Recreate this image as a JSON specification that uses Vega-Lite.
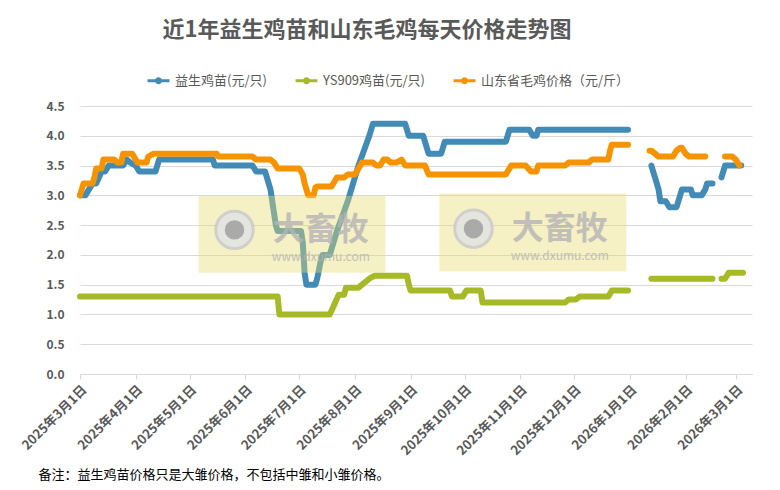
{
  "$schema": "https://vega.github.io/schema/vega-lite/v6.json",
  "width": 672,
  "height": 268,
  "autosize": {"type": "none"},
  "padding": {"left": 80, "top": 106, "right": 28, "bottom": 116},
  "background": "white",
  "title": {
    "text": "近1年益生鸡苗和山东毛鸡每天价格走势图",
    "anchor": "middle",
    "dx": -49,
    "offset": 26,
    "fontSize": 22,
    "fontWeight": "bold",
    "color": "#595959"
  },
  "datasets": {
    "price": [
      {"d": "2025-03-01", "s": "益生鸡苗(元/只)", "v": 3.0},
      {"d": "2025-03-04", "s": "益生鸡苗(元/只)", "v": 3.0},
      {"d": "2025-03-06", "s": "益生鸡苗(元/只)", "v": 3.1},
      {"d": "2025-03-08", "s": "益生鸡苗(元/只)", "v": 3.2},
      {"d": "2025-03-10", "s": "益生鸡苗(元/只)", "v": 3.2},
      {"d": "2025-03-12", "s": "益生鸡苗(元/只)", "v": 3.33},
      {"d": "2025-03-13", "s": "益生鸡苗(元/只)", "v": 3.4},
      {"d": "2025-03-15", "s": "益生鸡苗(元/只)", "v": 3.4},
      {"d": "2025-03-17", "s": "益生鸡苗(元/只)", "v": 3.5},
      {"d": "2025-03-25", "s": "益生鸡苗(元/只)", "v": 3.5},
      {"d": "2025-03-27", "s": "益生鸡苗(元/只)", "v": 3.6},
      {"d": "2025-03-29", "s": "益生鸡苗(元/只)", "v": 3.55},
      {"d": "2025-04-01", "s": "益生鸡苗(元/只)", "v": 3.5},
      {"d": "2025-04-03", "s": "益生鸡苗(元/只)", "v": 3.4},
      {"d": "2025-04-12", "s": "益生鸡苗(元/只)", "v": 3.4},
      {"d": "2025-04-13", "s": "益生鸡苗(元/只)", "v": 3.5},
      {"d": "2025-04-14", "s": "益生鸡苗(元/只)", "v": 3.6},
      {"d": "2025-05-14", "s": "益生鸡苗(元/只)", "v": 3.6},
      {"d": "2025-05-15", "s": "益生鸡苗(元/只)", "v": 3.5},
      {"d": "2025-06-05", "s": "益生鸡苗(元/只)", "v": 3.5},
      {"d": "2025-06-07", "s": "益生鸡苗(元/只)", "v": 3.4},
      {"d": "2025-06-12", "s": "益生鸡苗(元/只)", "v": 3.4},
      {"d": "2025-06-13", "s": "益生鸡苗(元/只)", "v": 3.3},
      {"d": "2025-06-14", "s": "益生鸡苗(元/只)", "v": 3.2},
      {"d": "2025-06-15", "s": "益生鸡苗(元/只)", "v": 3.1},
      {"d": "2025-06-16", "s": "益生鸡苗(元/只)", "v": 2.9},
      {"d": "2025-06-17", "s": "益生鸡苗(元/只)", "v": 2.7},
      {"d": "2025-06-18", "s": "益生鸡苗(元/只)", "v": 2.5},
      {"d": "2025-06-19", "s": "益生鸡苗(元/只)", "v": 2.4},
      {"d": "2025-07-02", "s": "益生鸡苗(元/只)", "v": 2.4},
      {"d": "2025-07-03", "s": "益生鸡苗(元/只)", "v": 2.2},
      {"d": "2025-07-04", "s": "益生鸡苗(元/只)", "v": 1.7},
      {"d": "2025-07-05", "s": "益生鸡苗(元/只)", "v": 1.5},
      {"d": "2025-07-10", "s": "益生鸡苗(元/只)", "v": 1.5},
      {"d": "2025-07-11", "s": "益生鸡苗(元/只)", "v": 1.6},
      {"d": "2025-07-12", "s": "益生鸡苗(元/只)", "v": 1.75},
      {"d": "2025-07-13", "s": "益生鸡苗(元/只)", "v": 1.9},
      {"d": "2025-07-14", "s": "益生鸡苗(元/只)", "v": 2.0},
      {"d": "2025-07-18", "s": "益生鸡苗(元/只)", "v": 2.0},
      {"d": "2025-07-19", "s": "益生鸡苗(元/只)", "v": 2.1},
      {"d": "2025-07-22", "s": "益生鸡苗(元/只)", "v": 2.4},
      {"d": "2025-07-25", "s": "益生鸡苗(元/只)", "v": 2.65},
      {"d": "2025-07-28", "s": "益生鸡苗(元/只)", "v": 2.9},
      {"d": "2025-07-31", "s": "益生鸡苗(元/只)", "v": 3.2},
      {"d": "2025-08-03", "s": "益生鸡苗(元/只)", "v": 3.5},
      {"d": "2025-08-06", "s": "益生鸡苗(元/只)", "v": 3.75},
      {"d": "2025-08-09", "s": "益生鸡苗(元/只)", "v": 4.0},
      {"d": "2025-08-11", "s": "益生鸡苗(元/只)", "v": 4.2},
      {"d": "2025-08-29", "s": "益生鸡苗(元/只)", "v": 4.2},
      {"d": "2025-08-31", "s": "益生鸡苗(元/只)", "v": 4.0},
      {"d": "2025-09-08", "s": "益生鸡苗(元/只)", "v": 4.0},
      {"d": "2025-09-10", "s": "益生鸡苗(元/只)", "v": 3.8},
      {"d": "2025-09-11", "s": "益生鸡苗(元/只)", "v": 3.7},
      {"d": "2025-09-18", "s": "益生鸡苗(元/只)", "v": 3.7},
      {"d": "2025-09-19", "s": "益生鸡苗(元/只)", "v": 3.8},
      {"d": "2025-09-20", "s": "益生鸡苗(元/只)", "v": 3.9},
      {"d": "2025-10-24", "s": "益生鸡苗(元/只)", "v": 3.9},
      {"d": "2025-10-25", "s": "益生鸡苗(元/只)", "v": 4.0},
      {"d": "2025-10-26", "s": "益生鸡苗(元/只)", "v": 4.1},
      {"d": "2025-11-06", "s": "益生鸡苗(元/只)", "v": 4.1},
      {"d": "2025-11-08", "s": "益生鸡苗(元/只)", "v": 4.0},
      {"d": "2025-11-10", "s": "益生鸡苗(元/只)", "v": 4.0},
      {"d": "2025-11-11", "s": "益生鸡苗(元/只)", "v": 4.1},
      {"d": "2025-12-31", "s": "益生鸡苗(元/只)", "v": 4.1},
      {"d": "2026-01-06", "s": "益生鸡苗(元/只)", "v": null},
      {"d": "2026-01-13", "s": "益生鸡苗(元/只)", "v": 3.5},
      {"d": "2026-01-14", "s": "益生鸡苗(元/只)", "v": 3.4},
      {"d": "2026-01-15", "s": "益生鸡苗(元/只)", "v": 3.3},
      {"d": "2026-01-17", "s": "益生鸡苗(元/只)", "v": 3.1},
      {"d": "2026-01-18", "s": "益生鸡苗(元/只)", "v": 2.9},
      {"d": "2026-01-21", "s": "益生鸡苗(元/只)", "v": 2.9},
      {"d": "2026-01-23", "s": "益生鸡苗(元/只)", "v": 2.8},
      {"d": "2026-01-27", "s": "益生鸡苗(元/只)", "v": 2.8},
      {"d": "2026-01-28", "s": "益生鸡苗(元/只)", "v": 2.9},
      {"d": "2026-01-29", "s": "益生鸡苗(元/只)", "v": 3.0},
      {"d": "2026-01-30", "s": "益生鸡苗(元/只)", "v": 3.1},
      {"d": "2026-02-04", "s": "益生鸡苗(元/只)", "v": 3.1},
      {"d": "2026-02-05", "s": "益生鸡苗(元/只)", "v": 3.0},
      {"d": "2026-02-10", "s": "益生鸡苗(元/只)", "v": 3.0},
      {"d": "2026-02-12", "s": "益生鸡苗(元/只)", "v": 3.1},
      {"d": "2026-02-13", "s": "益生鸡苗(元/只)", "v": 3.2},
      {"d": "2026-02-16", "s": "益生鸡苗(元/只)", "v": 3.2},
      {"d": "2026-02-19", "s": "益生鸡苗(元/只)", "v": null},
      {"d": "2026-02-21", "s": "益生鸡苗(元/只)", "v": 3.3},
      {"d": "2026-02-23", "s": "益生鸡苗(元/只)", "v": 3.5},
      {"d": "2026-03-04", "s": "益生鸡苗(元/只)", "v": 3.5},

      {"d": "2025-03-01", "s": "YS909鸡苗(元/只)", "v": 1.3},
      {"d": "2025-06-19", "s": "YS909鸡苗(元/只)", "v": 1.3},
      {"d": "2025-06-20", "s": "YS909鸡苗(元/只)", "v": 1.0},
      {"d": "2025-07-18", "s": "YS909鸡苗(元/只)", "v": 1.0},
      {"d": "2025-07-20", "s": "YS909鸡苗(元/只)", "v": 1.13},
      {"d": "2025-07-21", "s": "YS909鸡苗(元/只)", "v": 1.2},
      {"d": "2025-07-23", "s": "YS909鸡苗(元/只)", "v": 1.33},
      {"d": "2025-07-26", "s": "YS909鸡苗(元/只)", "v": 1.33},
      {"d": "2025-07-27", "s": "YS909鸡苗(元/只)", "v": 1.45},
      {"d": "2025-08-03", "s": "YS909鸡苗(元/只)", "v": 1.45},
      {"d": "2025-08-05", "s": "YS909鸡苗(元/只)", "v": 1.5},
      {"d": "2025-08-09", "s": "YS909鸡苗(元/只)", "v": 1.6},
      {"d": "2025-08-12", "s": "YS909鸡苗(元/只)", "v": 1.65},
      {"d": "2025-08-30", "s": "YS909鸡苗(元/只)", "v": 1.65},
      {"d": "2025-08-31", "s": "YS909鸡苗(元/只)", "v": 1.5},
      {"d": "2025-09-01", "s": "YS909鸡苗(元/只)", "v": 1.4},
      {"d": "2025-09-23", "s": "YS909鸡苗(元/只)", "v": 1.4},
      {"d": "2025-09-24", "s": "YS909鸡苗(元/只)", "v": 1.3},
      {"d": "2025-09-30", "s": "YS909鸡苗(元/只)", "v": 1.3},
      {"d": "2025-10-02", "s": "YS909鸡苗(元/只)", "v": 1.4},
      {"d": "2025-10-10", "s": "YS909鸡苗(元/只)", "v": 1.4},
      {"d": "2025-10-11", "s": "YS909鸡苗(元/只)", "v": 1.2},
      {"d": "2025-11-26", "s": "YS909鸡苗(元/只)", "v": 1.2},
      {"d": "2025-11-28", "s": "YS909鸡苗(元/只)", "v": 1.25},
      {"d": "2025-12-02", "s": "YS909鸡苗(元/只)", "v": 1.25},
      {"d": "2025-12-04", "s": "YS909鸡苗(元/只)", "v": 1.3},
      {"d": "2025-12-20", "s": "YS909鸡苗(元/只)", "v": 1.3},
      {"d": "2025-12-22", "s": "YS909鸡苗(元/只)", "v": 1.4},
      {"d": "2025-12-31", "s": "YS909鸡苗(元/只)", "v": 1.4},
      {"d": "2026-01-06", "s": "YS909鸡苗(元/只)", "v": null},
      {"d": "2026-01-13", "s": "YS909鸡苗(元/只)", "v": 1.6},
      {"d": "2026-02-16", "s": "YS909鸡苗(元/只)", "v": 1.6},
      {"d": "2026-02-19", "s": "YS909鸡苗(元/只)", "v": null},
      {"d": "2026-02-21", "s": "YS909鸡苗(元/只)", "v": 1.6},
      {"d": "2026-02-23", "s": "YS909鸡苗(元/只)", "v": 1.6},
      {"d": "2026-02-25", "s": "YS909鸡苗(元/只)", "v": 1.7},
      {"d": "2026-03-05", "s": "YS909鸡苗(元/只)", "v": 1.7},

      {"d": "2025-03-01", "s": "山东省毛鸡价格（元/斤）", "v": 3.0},
      {"d": "2025-03-02", "s": "山东省毛鸡价格（元/斤）", "v": 3.1},
      {"d": "2025-03-03", "s": "山东省毛鸡价格（元/斤）", "v": 3.2},
      {"d": "2025-03-08", "s": "山东省毛鸡价格（元/斤）", "v": 3.2},
      {"d": "2025-03-09", "s": "山东省毛鸡价格（元/斤）", "v": 3.3},
      {"d": "2025-03-10", "s": "山东省毛鸡价格（元/斤）", "v": 3.45},
      {"d": "2025-03-13", "s": "山东省毛鸡价格（元/斤）", "v": 3.45},
      {"d": "2025-03-14", "s": "山东省毛鸡价格（元/斤）", "v": 3.6},
      {"d": "2025-03-20", "s": "山东省毛鸡价格（元/斤）", "v": 3.6},
      {"d": "2025-03-22", "s": "山东省毛鸡价格（元/斤）", "v": 3.55},
      {"d": "2025-03-24", "s": "山东省毛鸡价格（元/斤）", "v": 3.55},
      {"d": "2025-03-25", "s": "山东省毛鸡价格（元/斤）", "v": 3.7},
      {"d": "2025-03-30", "s": "山东省毛鸡价格（元/斤）", "v": 3.7},
      {"d": "2025-04-01", "s": "山东省毛鸡价格（元/斤）", "v": 3.6},
      {"d": "2025-04-02", "s": "山东省毛鸡价格（元/斤）", "v": 3.55},
      {"d": "2025-04-07", "s": "山东省毛鸡价格（元/斤）", "v": 3.55},
      {"d": "2025-04-08", "s": "山东省毛鸡价格（元/斤）", "v": 3.65},
      {"d": "2025-04-11", "s": "山东省毛鸡价格（元/斤）", "v": 3.7},
      {"d": "2025-05-16", "s": "山东省毛鸡价格（元/斤）", "v": 3.7},
      {"d": "2025-05-17", "s": "山东省毛鸡价格（元/斤）", "v": 3.65},
      {"d": "2025-06-05", "s": "山东省毛鸡价格（元/斤）", "v": 3.65},
      {"d": "2025-06-07", "s": "山东省毛鸡价格（元/斤）", "v": 3.6},
      {"d": "2025-06-15", "s": "山东省毛鸡价格（元/斤）", "v": 3.6},
      {"d": "2025-06-17", "s": "山东省毛鸡价格（元/斤）", "v": 3.55},
      {"d": "2025-06-19", "s": "山东省毛鸡价格（元/斤）", "v": 3.45},
      {"d": "2025-07-01", "s": "山东省毛鸡价格（元/斤）", "v": 3.45},
      {"d": "2025-07-03", "s": "山东省毛鸡价格（元/斤）", "v": 3.35},
      {"d": "2025-07-04", "s": "山东省毛鸡价格（元/斤）", "v": 3.2},
      {"d": "2025-07-05", "s": "山东省毛鸡价格（元/斤）", "v": 3.1},
      {"d": "2025-07-06", "s": "山东省毛鸡价格（元/斤）", "v": 3.0},
      {"d": "2025-07-09", "s": "山东省毛鸡价格（元/斤）", "v": 3.0},
      {"d": "2025-07-10", "s": "山东省毛鸡价格（元/斤）", "v": 3.13},
      {"d": "2025-07-11", "s": "山东省毛鸡价格（元/斤）", "v": 3.15},
      {"d": "2025-07-19", "s": "山东省毛鸡价格（元/斤）", "v": 3.15},
      {"d": "2025-07-21", "s": "山东省毛鸡价格（元/斤）", "v": 3.25},
      {"d": "2025-07-22", "s": "山东省毛鸡价格（元/斤）", "v": 3.3},
      {"d": "2025-07-26", "s": "山东省毛鸡价格（元/斤）", "v": 3.3},
      {"d": "2025-07-28", "s": "山东省毛鸡价格（元/斤）", "v": 3.35},
      {"d": "2025-08-01", "s": "山东省毛鸡价格（元/斤）", "v": 3.35},
      {"d": "2025-08-03", "s": "山东省毛鸡价格（元/斤）", "v": 3.45},
      {"d": "2025-08-05", "s": "山东省毛鸡价格（元/斤）", "v": 3.55},
      {"d": "2025-08-11", "s": "山东省毛鸡价格（元/斤）", "v": 3.55},
      {"d": "2025-08-13", "s": "山东省毛鸡价格（元/斤）", "v": 3.5},
      {"d": "2025-08-15", "s": "山东省毛鸡价格（元/斤）", "v": 3.5},
      {"d": "2025-08-17", "s": "山东省毛鸡价格（元/斤）", "v": 3.6},
      {"d": "2025-08-19", "s": "山东省毛鸡价格（元/斤）", "v": 3.6},
      {"d": "2025-08-21", "s": "山东省毛鸡价格（元/斤）", "v": 3.55},
      {"d": "2025-08-24", "s": "山东省毛鸡价格（元/斤）", "v": 3.55},
      {"d": "2025-08-27", "s": "山东省毛鸡价格（元/斤）", "v": 3.6},
      {"d": "2025-08-29", "s": "山东省毛鸡价格（元/斤）", "v": 3.5},
      {"d": "2025-09-09", "s": "山东省毛鸡价格（元/斤）", "v": 3.5},
      {"d": "2025-09-11", "s": "山东省毛鸡价格（元/斤）", "v": 3.35},
      {"d": "2025-10-24", "s": "山东省毛鸡价格（元/斤）", "v": 3.35},
      {"d": "2025-10-26", "s": "山东省毛鸡价格（元/斤）", "v": 3.45},
      {"d": "2025-10-27", "s": "山东省毛鸡价格（元/斤）", "v": 3.5},
      {"d": "2025-11-04", "s": "山东省毛鸡价格（元/斤）", "v": 3.5},
      {"d": "2025-11-07", "s": "山东省毛鸡价格（元/斤）", "v": 3.4},
      {"d": "2025-11-10", "s": "山东省毛鸡价格（元/斤）", "v": 3.4},
      {"d": "2025-11-11", "s": "山东省毛鸡价格（元/斤）", "v": 3.5},
      {"d": "2025-11-26", "s": "山东省毛鸡价格（元/斤）", "v": 3.5},
      {"d": "2025-11-28", "s": "山东省毛鸡价格（元/斤）", "v": 3.55},
      {"d": "2025-12-09", "s": "山东省毛鸡价格（元/斤）", "v": 3.55},
      {"d": "2025-12-11", "s": "山东省毛鸡价格（元/斤）", "v": 3.6},
      {"d": "2025-12-20", "s": "山东省毛鸡价格（元/斤）", "v": 3.6},
      {"d": "2025-12-21", "s": "山东省毛鸡价格（元/斤）", "v": 3.75},
      {"d": "2025-12-22", "s": "山东省毛鸡价格（元/斤）", "v": 3.85},
      {"d": "2025-12-31", "s": "山东省毛鸡价格（元/斤）", "v": 3.85},
      {"d": "2026-01-06", "s": "山东省毛鸡价格（元/斤）", "v": null},
      {"d": "2026-01-12", "s": "山东省毛鸡价格（元/斤）", "v": 3.75},
      {"d": "2026-01-13", "s": "山东省毛鸡价格（元/斤）", "v": 3.75},
      {"d": "2026-01-15", "s": "山东省毛鸡价格（元/斤）", "v": 3.7},
      {"d": "2026-01-17", "s": "山东省毛鸡价格（元/斤）", "v": 3.65},
      {"d": "2026-01-25", "s": "山东省毛鸡价格（元/斤）", "v": 3.65},
      {"d": "2026-01-27", "s": "山东省毛鸡价格（元/斤）", "v": 3.75},
      {"d": "2026-01-29", "s": "山东省毛鸡价格（元/斤）", "v": 3.8},
      {"d": "2026-01-30", "s": "山东省毛鸡价格（元/斤）", "v": 3.8},
      {"d": "2026-02-01", "s": "山东省毛鸡价格（元/斤）", "v": 3.7},
      {"d": "2026-02-03", "s": "山东省毛鸡价格（元/斤）", "v": 3.65},
      {"d": "2026-02-12", "s": "山东省毛鸡价格（元/斤）", "v": 3.65},
      {"d": "2026-02-18", "s": "山东省毛鸡价格（元/斤）", "v": null},
      {"d": "2026-02-23", "s": "山东省毛鸡价格（元/斤）", "v": 3.65},
      {"d": "2026-02-27", "s": "山东省毛鸡价格（元/斤）", "v": 3.65},
      {"d": "2026-03-01", "s": "山东省毛鸡价格（元/斤）", "v": 3.6},
      {"d": "2026-03-03", "s": "山东省毛鸡价格（元/斤）", "v": 3.5}
    ],
    "watermark": [
      {"from": "2025-05-06", "to": "2025-08-18", "low": 1.7, "high": 2.99, "logo": "2025-05-26", "word": "2025-07-13", "mid": 2.42, "site": 1.96},
      {"from": "2025-09-17", "to": "2025-12-30", "low": 1.72, "high": 3.03, "logo": "2025-10-06", "word": "2025-11-23", "mid": 2.44, "site": 1.98}
    ]
  },
  "layer": [
    {
      "data": {"name": "price"},
      "mark": {
        "type": "line",
        "strokeWidth": 6,
        "strokeCap": "round",
        "strokeJoin": "round",
        "invalid": "break-paths-show-domains"
      },
      "encoding": {
        "x": {
          "field": "d",
          "type": "temporal",
          "scale": {
            "type": "utc",
            "nice": false,
            "domain": [
              {"year": 2025, "month": 3, "date": 1, "utc": true},
              {"year": 2026, "month": 3, "date": 10, "utc": true}
            ]
          },
          "axis": {
            "title": "备注：益生鸡苗价格只是大雏价格，不包括中雏和小雏价格。",
            "titleAnchor": "start",
            "titleAlign": "left",
            "titleX": -42,
            "titleY": 104,
            "titleBaseline": "alphabetic",
            "titleFontSize": 13,
            "titleFontWeight": "normal",
            "titleColor": "#000000",
            "format": "%Y年%-m月%-d日",
            "tickCount": {"interval": "month", "step": 1},
            "labelAngle": -45,
            "labelFontSize": 13,
            "labelPadding": 4,
            "tickSize": 5,
            "grid": false,
            "labelOverlap": false,
            "labelFlush": false
          }
        },
        "y": {
          "field": "v",
          "type": "quantitative",
          "scale": {"domain": [0, 4.5], "nice": false},
          "axis": {
            "title": null,
            "tickCount": 9,
            "format": ".1f",
            "domain": false,
            "ticks": false,
            "labelOverlap": false,
            "labelPadding": 16
          }
        },
        "color": {
          "field": "s",
          "type": "nominal",
          "sort": null,
          "scale": {
            "domain": ["益生鸡苗(元/只)", "YS909鸡苗(元/只)", "山东省毛鸡价格（元/斤）"],
            "range": ["#418bb6", "#a6b927", "#f59400"]
          },
          "legend": {
            "title": null,
            "orient": "none",
            "direction": "horizontal",
            "legendX": 66,
            "legendY": -38,
            "symbolType": "M-1,0L1,0M0.18,0A0.18,0.18,0,1,1,-0.18,0A0.18,0.18,0,1,1,0.18,0",
            "symbolSize": 480,
            "symbolStrokeWidth": 3,
            "labelFontSize": 13,
            "labelColor": "#595959",
            "labelOffset": 4,
            "columnPadding": 22
          }
        }
      }
    },
    {
      "data": {"name": "watermark"},
      "mark": {"type": "rect", "fill": "#e9d96f", "opacity": 0.4},
      "encoding": {
        "x": {"field": "from", "type": "temporal"},
        "x2": {"field": "to"},
        "y": {"field": "low", "type": "quantitative"},
        "y2": {"field": "high"}
      }
    },
    {
      "data": {"name": "watermark"},
      "mark": {"type": "point", "shape": "circle", "filled": true, "size": 1400, "fill": "#e4e4e4", "stroke": "#cccccc", "strokeWidth": 3, "opacity": 0.9},
      "encoding": {
        "x": {"field": "logo", "type": "temporal"},
        "y": {"field": "mid", "type": "quantitative"}
      }
    },
    {
      "data": {"name": "watermark"},
      "mark": {"type": "point", "shape": "circle", "filled": true, "size": 380, "fill": "#a3a3a3", "opacity": 0.9},
      "encoding": {
        "x": {"field": "logo", "type": "temporal"},
        "y": {"field": "mid", "type": "quantitative"}
      }
    },
    {
      "data": {"name": "watermark"},
      "mark": {"type": "text", "text": "大畜牧", "fontSize": 32, "fontWeight": "bold", "color": "#b4b4b4", "opacity": 0.8},
      "encoding": {
        "x": {"field": "word", "type": "temporal"},
        "y": {"field": "mid", "type": "quantitative"}
      }
    },
    {
      "data": {"name": "watermark"},
      "mark": {"type": "text", "text": "www.dxumu.com", "fontSize": 12, "color": "#b4b4b4", "opacity": 0.8},
      "encoding": {
        "x": {"field": "word", "type": "temporal"},
        "y": {"field": "site", "type": "quantitative"}
      }
    }
  ],
  "config": {
    "font": "Noto Sans CJK SC",
    "view": {"stroke": null},
    "axis": {
      "labelColor": "#595959",
      "labelFontWeight": "bold",
      "labelFontSize": 12,
      "gridColor": "#d9d9d9",
      "domainColor": "#d9d9d9",
      "tickColor": "#d9d9d9"
    },
    "axisY": {"tickCount": 9, "labelPadding": 16}
  }
}
